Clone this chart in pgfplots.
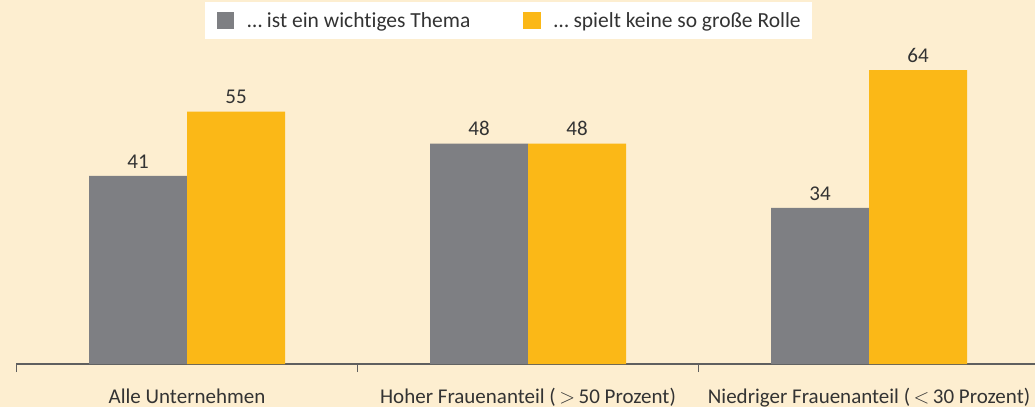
\documentclass[border=0pt]{standalone}
\usepackage{pgfplots}
\pgfplotsset{compat=1.18}
\usepackage{fontspec}
\setmainfont{Carlito}[Ligatures={NoCommon}]
\definecolor{bg}{RGB}{253,238,208}
\definecolor{grayb}{RGB}{126,127,131}
\definecolor{yell}{RGB}{251,184,23}
\definecolor{txt}{RGB}{51,51,51}
\definecolor{axl}{RGB}{95,95,95}
\begin{document}
\begin{tikzpicture}
\fill[bg] (-16.5pt,-43pt) rectangle (1018.5pt,364pt);
\path[use as bounding box] (-16.5pt,-43pt) rectangle (1018.5pt,364pt);
\begin{axis}[
  x=341pt, y=4.59pt,
  xmin=0, xmax=3, ymin=0, ymax=79.3,
  clip=false,
  /pgf/number format/assume math mode=true,
  axis x line*=bottom, axis y line=none,
  axis line style={axl, line width=1.3pt},
  ybar=0pt, bar width=98pt,
  xtick={0.5,1.5,2.5},
  xticklabels={Alle Unternehmen, Hoher Frauenanteil (\,$>$\,50 Prozent), Niedriger Frauenanteil (\,$<$\,30 Prozent)},
  minor xtick={0,1,2,3},
  tick align=outside,
  major tick length=0pt, minor tick length=8pt,
  every tick/.style={axl, line width=1.2pt},
  ytick=\empty,
  xticklabel style={font=\fontsize{21}{25}\selectfont, text=txt, anchor=base, yshift=-39.5pt},
  nodes near coords,
  every node near coord/.append style={font=\fontsize{21}{25}\selectfont, text=txt, anchor=base, yshift=7.7pt},
  legend style={at={(0.4812,0.94368)}, anchor=center, draw=none, fill=white,
    inner xsep=11.5pt, inner ysep=9.8pt,
    font=\fontsize{21.5}{25}\selectfont, text=txt,
    nodes={inner sep=0pt},
    /tikz/every odd column/.append style={column sep=13pt},
    /tikz/every even column/.append style={column sep=53pt}},
  legend columns=2,
  legend image code/.code={\fill[#1,draw=none] (0pt,-8.7pt) rectangle (17.4pt,8.7pt);},
]
\addplot[fill=grayb, draw=none] coordinates {(0.5,41) (1.5,48) (2.5,34)};
\addplot[fill=yell, draw=none] coordinates {(0.5,55) (1.5,48) (2.5,64)};
\legend{{\ldots} ist ein wichtiges Thema, {\ldots} spielt keine so große Rolle}
\end{axis}
\end{tikzpicture}
\end{document}
